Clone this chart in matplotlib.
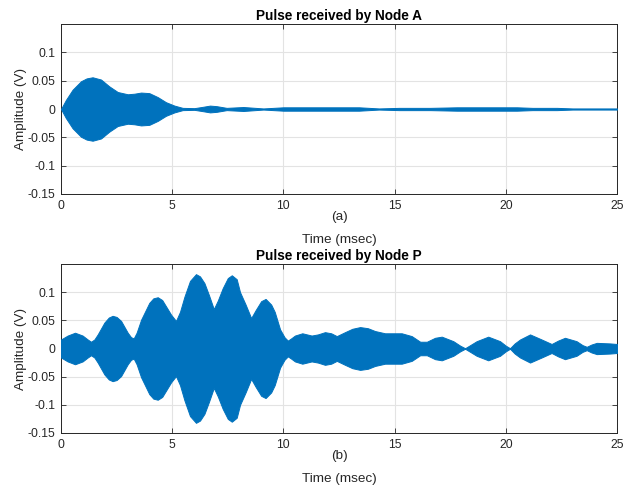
import numpy as np
import matplotlib
matplotlib.use("Agg")
import matplotlib.pyplot as plt

# envelope of the received pulses (time in msec, amplitude in V)
time_a = [0.0, 0.22, 0.52, 0.9, 1.15, 1.42, 1.8, 2.17, 2.55, 3.0, 3.3, 3.6, 3.97,
          4.35, 4.72, 5.1, 5.47, 6.0, 6.4, 6.7, 7.0, 7.45, 8.2, 9.1, 10.0, 11.0,
          12.0, 13.4, 14.3, 15.2, 16.6, 17.8, 20.5, 21.2, 22.3, 23.0, 25.0]
env_a = [0.0, 0.016, 0.034, 0.049, 0.054, 0.056, 0.052, 0.040, 0.030, 0.026, 0.027,
         0.029, 0.028, 0.021, 0.012, 0.006, 0.002, 0.0015, 0.004, 0.006, 0.005,
         0.002, 0.0035, 0.001, 0.003, 0.003, 0.003, 0.003, 0.001, 0.002, 0.002,
         0.003, 0.003, 0.002, 0.002, 0.001, 0.001]

time_p = [0.0, 0.3, 0.63, 0.97, 1.2, 1.35, 1.5, 1.65, 1.95, 2.15, 2.32, 2.5, 2.7,
          3.0, 3.15, 3.27, 3.4, 3.6, 3.97, 4.15, 4.35, 4.55, 4.72, 4.95, 5.17, 5.35,
          5.55, 5.8, 6.07, 6.25, 6.45, 6.65, 6.87, 7.05, 7.27, 7.5, 7.68, 7.9, 8.05,
          8.3, 8.55, 8.75, 9.0, 9.2, 9.45, 9.61, 9.85, 10.05, 10.2, 10.35, 10.52,
          10.85, 11.27, 11.55, 11.87, 12.15, 12.4, 12.77, 13.1, 13.45, 13.8, 14.12,
          14.57, 15.32, 15.77, 16.15, 16.45, 16.82, 17.12, 17.64, 17.95, 18.17,
          18.4, 18.69, 19.21, 19.74, 20.0, 20.19, 20.4, 20.64, 21.09, 21.61, 22.06,
          22.35, 22.66, 23.18, 23.45, 23.64, 23.85, 24.09, 24.69, 25.0]
env_p = [0.016, 0.023, 0.028, 0.023, 0.016, 0.012, 0.016, 0.025, 0.046, 0.055,
         0.058, 0.056, 0.049, 0.028, 0.020, 0.018, 0.028, 0.051, 0.081, 0.089,
         0.091, 0.086, 0.075, 0.060, 0.049, 0.065, 0.092, 0.120, 0.132, 0.128,
         0.116, 0.095, 0.070, 0.085, 0.107, 0.125, 0.130, 0.123, 0.100, 0.078,
         0.054, 0.068, 0.084, 0.088, 0.078, 0.065, 0.034, 0.020, 0.014, 0.018,
         0.023, 0.027, 0.023, 0.025, 0.029, 0.027, 0.022, 0.029, 0.035, 0.038,
         0.036, 0.031, 0.027, 0.027, 0.022, 0.012, 0.012, 0.019, 0.021, 0.013,
         0.005, 0.0005, 0.006, 0.013, 0.021, 0.013, 0.005, 0.0005, 0.009, 0.016,
         0.025, 0.016, 0.008, 0.014, 0.019, 0.013, 0.006, 0.003, 0.007, 0.010,
         0.009, 0.008]

xticks = [0, 5, 10, 15, 20, 25]
yticks = [-0.15, -0.1, -0.05, 0, 0.05, 0.1]
ytick_labels = ["-0.15", "-0.1", "-0.05", "0", "0.05", "0.1"]

blue = "#0072BD"
dark = "#262626"

plt.rcParams["font.family"] = ["Liberation Sans", "DejaVu Sans"]

fig = plt.figure(figsize=(6.25, 4.94), dpi=100)
ax1 = fig.add_axes([0.0976, 0.6073, 0.8896, 0.3441])
ax2 = fig.add_axes([0.0976, 0.1235, 0.8896, 0.3421])

panels = [
    (ax1, time_a, env_a, "Pulse received by Node A", "(a)", 0.561, 0.515),
    (ax2, time_p, env_p, "Pulse received by Node P", "(b)", 0.076, 0.030),
]

for ax, t, env, title, tag, y_tag, y_lab in panels:
    t = np.array(t)
    env = np.array(env)
    ax.fill_between(t, -env, env, color=blue, edgecolor=blue, linewidth=0.7, zorder=3)
    ax.set_xlim(0, 25)
    ax.set_ylim(-0.15, 0.15)
    ax.set_xticks(xticks)
    ax.set_yticks(yticks)
    ax.set_yticklabels(ytick_labels)
    ax.grid(True, color="#e3e3e3", linewidth=0.8, zorder=0)
    ax.set_axisbelow(True)
    ax.tick_params(direction="in", top=True, right=True, length=3.5, width=0.6,
                   colors=dark, labelsize=8.7, pad=4)
    for s in ax.spines.values():
        s.set_color(dark)
        s.set_linewidth(0.7)
    ax.set_title(title, fontsize=9.8, fontweight="bold", pad=3)
    ax.set_ylabel("Amplitude (V)", fontsize=9.7, color=dark)
    ax.yaxis.set_label_coords(-0.062, 0.5)
    fig.text(0.5424, y_tag, tag, ha="center", va="center", fontsize=9.7, color=dark)
    fig.text(0.5424, y_lab, "Time (msec)", ha="center", va="center", fontsize=9.7,
             color=dark)

fig.savefig("out.png", dpi=100)
